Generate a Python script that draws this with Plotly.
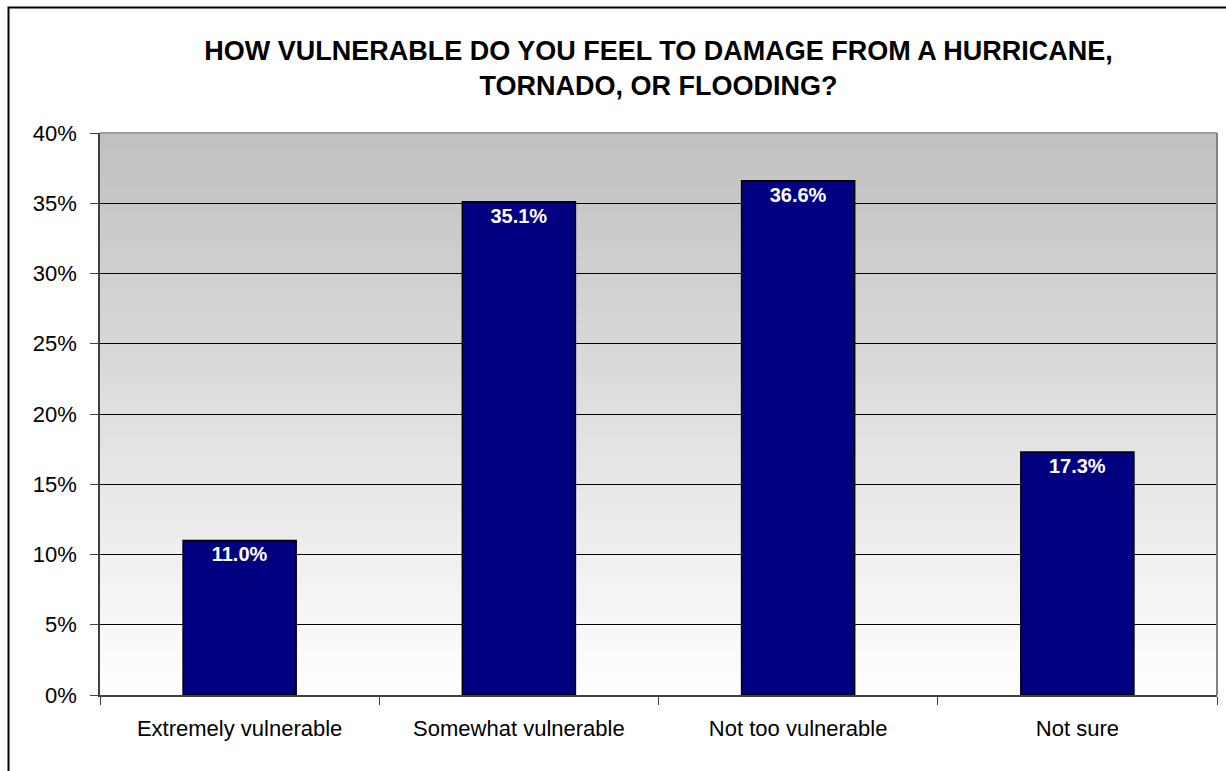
import plotly.graph_objects as go

categories = ["Extremely vulnerable", "Somewhat vulnerable", "Not too vulnerable", "Not sure"]
values = [11.0, 35.1, 36.6, 17.3]
labels = ["11.0%", "35.1%", "36.6%", "17.3%"]
y_ticks = [0, 5, 10, 15, 20, 25, 30, 35, 40]
y_tick_text = ["0%", "5%", "10%", "15%", "20%", "25%", "30%", "35%", "40%"]
title_text = "HOW VULNERABLE DO YOU FEEL TO DAMAGE FROM A HURRICANE,<br>TORNADO, OR FLOODING?"

FONT = "Arial, Liberation Sans, sans-serif"

fig = go.Figure()
fig.add_trace(go.Bar(
    x=categories, y=values, text=labels,
    textposition="inside", insidetextanchor="end",
    textfont=dict(family=FONT, size=20, color="white", weight="bold"),
    marker=dict(color="#000080", line=dict(color="black", width=1.5)),
    cliponaxis=False,
))

# gradient plot background (grey at top to white at bottom)
shapes = []
n = 80
for i in range(n):
    t0 = i / n
    t1 = (i + 1) / n
    frac = (i + 0.5) / n  # 0 at bottom, 1 at top
    c = int(round(255 - (255 - 192) * frac))
    shapes.append(dict(type="rect", xref="paper", yref="paper", x0=0, x1=1, y0=t0, y1=t1 + 0.002,
                       fillcolor=f"rgb({c},{c},{c})", line=dict(width=0), layer="below"))
# plot area border (top/right grey)
shapes.append(dict(type="line", xref="paper", yref="paper", x0=0, x1=1, y0=1, y1=1,
                   line=dict(color="#909090", width=1.5), layer="above"))
shapes.append(dict(type="line", xref="paper", yref="paper", x0=1, x1=1, y0=0, y1=1,
                   line=dict(color="#808080", width=2), layer="above"))
# outer chart frame (left and top visible)
W_PLOT = 1117.0
H_PLOT = 562.0
shapes.append(dict(type="rect", xref="paper", yref="paper",
                   x0=(8.5 - 100) / W_PLOT, x1=(1240 - 100) / W_PLOT,
                   y0=(695 - 790) / H_PLOT, y1=(695 - 7.5) / H_PLOT,
                   line=dict(color="black", width=2), fillcolor="rgba(0,0,0,0)", layer="above"))

fig.update_layout(
    width=1226, height=771,
    margin=dict(l=100, r=9, t=133, b=76, pad=0),
    paper_bgcolor="white", plot_bgcolor="white",
    bargap=0.595,
    showlegend=False,
    shapes=shapes,
    title=dict(text=title_text, x=0.5, xref="paper", xanchor="center",
               yref="container", y=1 - 60 / 771, yanchor="middle",
               font=dict(family=FONT, size=27, color="black", weight="bold")),
    font=dict(family=FONT, size=22, color="black"),
)
fig.update_xaxes(
    type="category", tickson="boundaries", ticks="outside", ticklen=8, tickcolor="#404040",
    showline=True, linecolor="#404040", linewidth=1.5, showgrid=False,
    tickfont=dict(family=FONT, size=22, color="black"), ticklabelstandoff=13,
)
fig.update_yaxes(
    range=[0, 40], tickvals=y_ticks, ticktext=y_tick_text,
    ticks="outside", ticklen=8, tickcolor="#404040",
    showline=True, linecolor="#404040", linewidth=1.5,
    showgrid=True, gridcolor="black", gridwidth=1, zeroline=False,
    tickfont=dict(family=FONT, size=22, color="black"), ticklabelstandoff=9,
)

fig.write_html("out.html", config={"displayModeBar": False},
               post_script="document.body.style.margin='0';")
